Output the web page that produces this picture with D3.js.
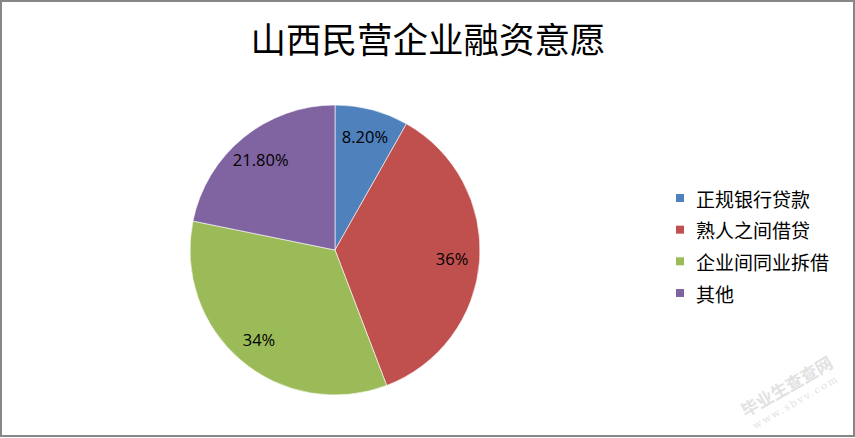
<!DOCTYPE html>
<html><head><meta charset="utf-8">
<script src="https://cdn.jsdelivr.net/npm/d3@7"></script>
<style>html,body{margin:0;padding:0;background:#fff;}svg{display:block;}</style>
</head><body>
<svg id="c" width="855" height="438"></svg>
<script>
const title = "山西民营企业融资意愿";
const categories = ["正规银行贷款", "熟人之间借贷", "企业间同业拆借", "其他"];
const values = [8.2, 36, 34, 21.8];
const labels = ["8.20%", "36%", "34%", "21.80%"];
const colors = ["#4F81BD", "#C0504D", "#9BBB59", "#8064A2"];

const svg = d3.select("#c");
svg.append("rect").attr("x",1).attr("y",1).attr("width",853).attr("height",435)
  .attr("fill","#fff").attr("stroke","#878787").attr("stroke-width",2);

svg.append("text").attr("x",428).attr("y",37).attr("text-anchor","middle")
  .attr("dominant-baseline","central")
  .style("font-family","'Noto Sans CJK SC'").style("font-size","35.5px").style("fill","#000")
  .text(title);

const cx = 335, cy = 250, r = 145;
const pie = d3.pie().sort(null).value(d=>d);
const arcs = pie(values);
const arc = d3.arc().innerRadius(0).outerRadius(r);
const labelArc = d3.arc().innerRadius(r*0.64).outerRadius(r*0.98);
const g = svg.append("g").attr("transform",`translate(${cx},${cy})`);
g.selectAll("path").data(arcs).enter().append("path")
  .attr("d",arc).attr("fill",(d,i)=>colors[i]).attr("stroke","#fff").attr("stroke-width",0.6);
g.selectAll("text").data(arcs).enter().append("text")
  .attr("transform",d=>`translate(${labelArc.centroid(d)})`)
  .attr("text-anchor","middle").attr("dominant-baseline","central")
  .style("font-family","'Open Sans', 'Liberation Sans', sans-serif").style("font-size","16.5px").style("fill","#000")
  .text((d,i)=>labels[i]);

const lg = svg.append("g").attr("transform","translate(676,194)");
const y = d3.scalePoint().domain(categories).range([0, 95]);
const items = lg.selectAll("g").data(categories).enter().append("g")
  .attr("transform",d=>`translate(0,${y(d)})`);
items.append("rect").attr("width",8).attr("height",8).attr("fill",(d,i)=>colors[i]);
items.append("text").attr("x",20).attr("y",4).attr("dominant-baseline","central")
  .style("font-family","'Noto Sans CJK SC'").style("font-size","19px").style("fill","#000")
  .text(d=>d);

const wm = svg.append("g").attr("transform","translate(790,392) rotate(-30)").style("fill","#e2e2e2");
wm.append("text").attr("text-anchor","middle").style("font-family","'Noto Sans CJK SC'")
  .style("font-size","17px").style("font-weight","bold").text("毕业生查查网");
wm.append("text").attr("text-anchor","middle").attr("y",15).style("font-family","'DejaVu Serif'")
  .style("font-size","10px").style("letter-spacing","2px").text("www.sbvv.com");
</script>
</body></html>
